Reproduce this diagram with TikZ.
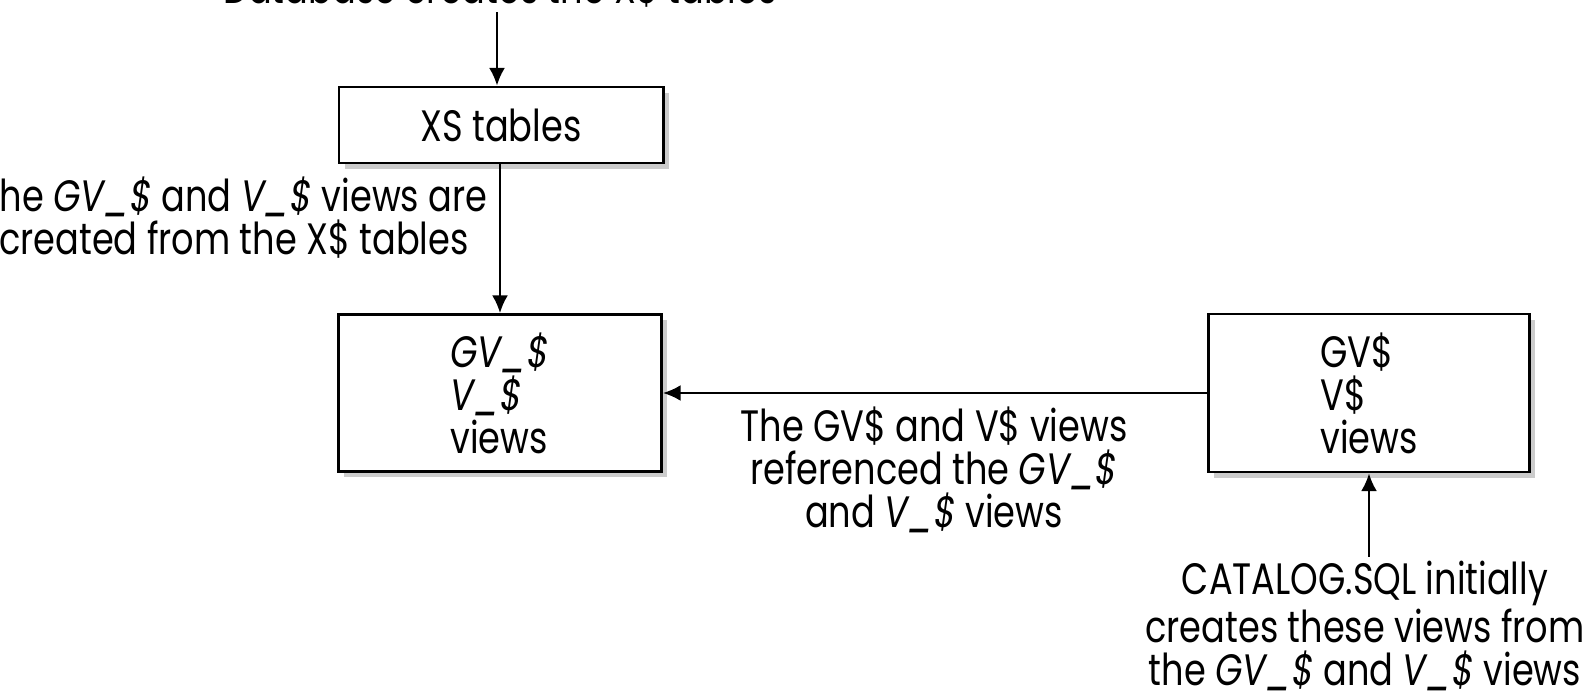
\documentclass[tikz,border=0pt]{standalone}
\usepackage{fontspec}
\setmainfont{Poppins}[FakeStretch=0.8]
\usetikzlibrary{shadows,arrows.meta}

\begin{document}
\begin{tikzpicture}[x=0.01cm,y=-0.01cm]
\tikzstyle{tbl}=[draw,thick,fill=white,drop shadow={shadow xshift=1.6pt,shadow yshift=-1.6pt,fill=black!20,opacity=1},font=\fontsize{12.5}{12.2}\selectfont]
\tikzstyle{note}=[align=center,inner sep=1pt,font=\fontsize{12.5}{12.2}\selectfont]
\tikzstyle{link}=[semithick,-{Latex[length=5pt,width=4.5pt]}]
\useasboundingbox (0,0) rectangle (1587,691);
\clip (0,0) rectangle (1587,691);
\node [note,anchor=base] (db) at (500,4) {Database creates the X\$ tables};
\node [tbl,minimum width=3.24cm,minimum height=0.76cm] (xs) at (501,125) {XS tables};
\node [tbl,minimum width=3.23cm,minimum height=1.57cm,align=left] (gvu) at (500,393)
  {\textit{GV\_\$}\\\textit{V\_\$}\\views};
\node [tbl,minimum width=3.21cm,minimum height=1.58cm,align=left] (gv) at (1369,393)
  {GV\$\\V\$\\views};
\node [note] (fromx) at (234,218)
  {The \textit{GV\_\$} and \textit{V\_\$} views are\\created from the X\$ tables};
\node [note] (refs) at (934,470)
  {The GV\$ and V\$ views\\referenced the \textit{GV\_\$}\\and \textit{V\_\$} views};
\node [note] (cat) at (1365,626)
  {CATALOG.SQL initially\\creates these views from\\the \textit{GV\_\$} and \textit{V\_\$} views};
\draw [link] (db.south -| 497,0) -- (xs.north -| 497,0);
\draw [link] (xs.south -| 500,0) -- (gvu.north -| 500,0);
\draw [link] (gv) -- (gvu);
\draw [link] (cat.north -| 1369,0) -- (gv.south -| 1369,0);
\end{tikzpicture}
\end{document}
